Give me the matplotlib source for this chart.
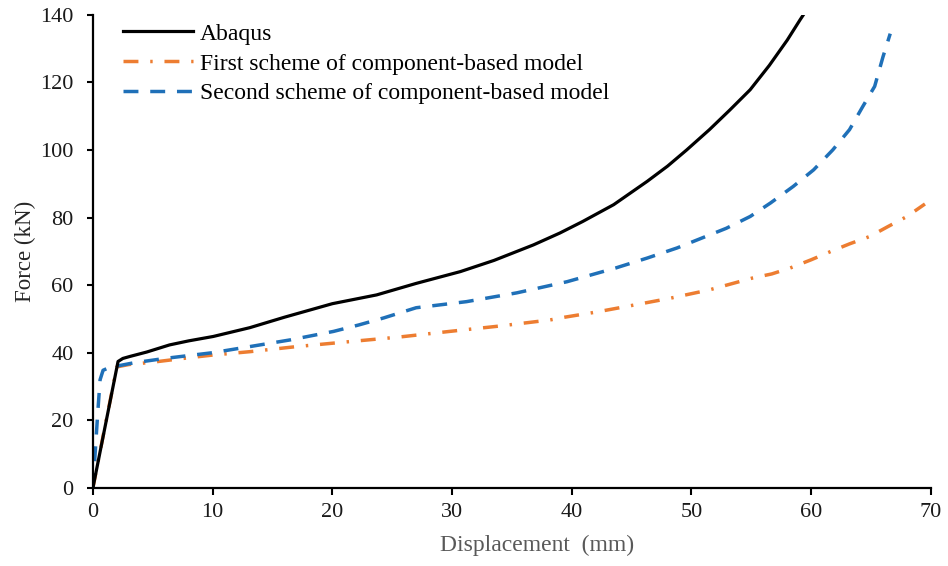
import matplotlib
matplotlib.use("Agg")
import matplotlib.pyplot as plt

# Force-displacement curves
abaqus_x = [0, 2.1, 2.5, 3.1, 4.5, 6.4, 8, 10.05, 13.1, 16, 20, 23.7, 27, 30.7, 33.5, 36.8,
            39, 40.9, 43.5, 46.3, 48, 49.6, 51.5, 53.2, 54.9, 56.5, 58, 59.07, 59.35]
abaqus_y = [0, 37.4, 38.3, 38.9, 40.2, 42.3, 43.5, 44.8, 47.4, 50.5, 54.5, 57.1, 60.5, 64, 67.3, 71.9,
            75.4, 78.8, 83.8, 90.7, 95.2, 100, 106, 111.8, 117.8, 125, 132.5, 138.5, 140]

first_x = [0, 1, 2.0, 3, 5, 8, 10, 13.1, 17, 21.5, 25.5, 29.8, 34, 38.2, 39.4, 42, 44.6, 48.2,
           51.5, 55.1, 56.7, 58.2, 60, 61.6, 63.2, 64.9, 66.4, 68, 69.5]
first_y = [0, 18, 35.8, 36.5, 37.2, 38.5, 39.3, 40.3, 41.8, 43.3, 44.6, 46.3, 47.9, 49.7, 50.5, 52, 53.7, 56.1,
           58.6, 62.1, 63.3, 65, 67.5, 69.9, 72.2, 74.4, 77.3, 80.3, 84]

second_x = [0, 0.17, 0.4, 0.6, 0.85, 1.3, 1.8, 3.4, 6, 10, 13.1, 16.5, 20.1, 22.2, 24.3, 27, 31.2,
            35.4, 39.6, 43.7, 46.3, 48.8, 52.9, 54.9, 56.6, 58.5, 60.2, 61.8, 63.2, 64.3, 65.3, 66, 66.6]
second_y = [0, 9.3, 22, 32, 34.8, 35.5, 35.9, 37, 38.3, 40, 41.8, 43.8, 46.3, 48.2, 50.3, 53.3, 55.1,
            57.7, 61, 65.1, 68, 71, 76.8, 80.3, 84.3, 89.2, 94.1, 100, 106, 112.8, 118.8, 127.6, 134.4]

x_ticks = [0, 10, 20, 30, 40, 50, 60, 70]
y_ticks = [0, 20, 40, 60, 80, 100, 120, 140]

plt.rcParams['font.family'] = ['Liberation Serif', 'DejaVu Serif']

fig = plt.figure(figsize=(9.48, 5.66), dpi=100)
ax = fig.add_axes([0.098, 0.138, 0.884, 0.836])

lw = 2.5
ax.plot(abaqus_x, abaqus_y, color='black', lw=2.3, label='Abaqus',
        solid_joinstyle='round', zorder=3)
ax.plot(first_x, first_y, color='#ED7D31', lw=lw, dashes=(4.3, 3.4, 0.7, 3.4),
        dash_capstyle='butt', label='First scheme of component-based model')
ax.plot(second_x, second_y, color='#1F70B8', lw=lw, dashes=(4.3, 3.4),
        dash_capstyle='butt', label='Second scheme of component-based model')

ax.set_xlim(0, 70)
ax.set_ylim(0, 140)
ax.set_xticks(x_ticks)
ax.set_yticks(y_ticks)
ax.tick_params(axis='x', direction='out', length=5, width=1.5, labelsize=16, pad=6,
               labelcolor='#1a1a1a')
ax.tick_params(axis='y', direction='out', length=4, width=1.5, labelsize=16, pad=10,
               labelcolor='#1a1a1a')
for s in ['top', 'right']:
    ax.spines[s].set_visible(False)
for s in ['left', 'bottom']:
    ax.spines[s].set_linewidth(1.6)

ax.set_xlabel('Displacement  (mm)', fontsize=17, color='#595959')
ax.xaxis.set_label_coords(0.53, -0.1)
ax.set_ylabel('Force (kN)', fontsize=16.5, color='#262626')
ax.yaxis.set_label_coords(-0.068, 0.5)

ax.legend(loc='upper left', bbox_to_anchor=(0.036, 0.982), frameon=False, fontsize=17,
          handlelength=2.95, handletextpad=0.3, labelspacing=0.35,
          borderaxespad=0.0, borderpad=0.0)

fig.savefig('out.png', dpi=100)
